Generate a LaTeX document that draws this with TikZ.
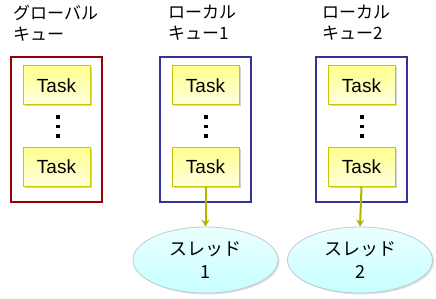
\documentclass[tikz,border=0pt]{standalone}
\usepackage{fontspec}
\setmainfont{Noto Sans CJK JP}
\newfontfamily\taskfont{Liberation Sans}
\usetikzlibrary{shapes.geometric,arrows.meta,shadows}
\definecolor{qred}{HTML}{990000}
\definecolor{qblue}{HTML}{333399}
\definecolor{tborder}{HTML}{C8C800}
\definecolor{arrowc}{HTML}{B4B400}
\tikzset{
  queue/.style={draw, line width=2pt, minimum width=91pt, minimum height=145pt, inner sep=0pt},
  task/.style={draw=tborder, line width=1pt, top color=yellow!45, bottom color=yellow!12, minimum width=67pt, minimum height=39pt, inner sep=0pt, font=\taskfont\fontsize{19}{19}\selectfont, drop shadow={shadow xshift=1.5pt, shadow yshift=-1.5pt, opacity=0.35}},
  thread/.style={ellipse, draw=cyan!20!gray!50, line width=0.8pt, top color=cyan!8, bottom color=cyan!22, minimum width=145pt, minimum height=66pt, inner sep=0pt, align=center, font=\fontsize{18}{23}\selectfont, drop shadow={shadow xshift=1.5pt, shadow yshift=-1.5pt, opacity=0.25}},
  title/.style={anchor=north west, align=left, inner sep=0pt, font=\fontsize{17}{21}\selectfont},
  flow/.style={draw=arrowc, line width=2pt, -{Stealth[length=7pt,width=8pt]}}
}
\begin{document}
\begin{tikzpicture}[x=1pt,y=-1pt]
\useasboundingbox (0,0) rectangle (436,299);
% titles
\node[title] (t1) at (13,5) {グローバル\\キュー};
\node[title] (t2) at (168,5) {ローカル\\キュー1};
\node[title] (t3) at (322,5) {ローカル\\キュー2};
% queues
\node[queue, draw=qred] (q1) at (56.5,129.5) {};
\node[queue, draw=qblue] (q2) at (205,129.5) {};
\node[queue, draw=qblue] (q3) at (361,129.5) {};
% tasks
\node[task] (a1) at (56.5,85.5) {Task};
\node[task] (a2) at (56.5,167) {Task};
\node[task] (b1) at (205.5,85.5) {Task};
\node[task] (b2) at (205.5,167) {Task};
\node[task] (c1) at (361.5,85.5) {Task};
\node[task] (c2) at (361.5,167) {Task};
% dots
\foreach \x in {58, 206, 362}{
  \foreach \y in {117,126.5,136}{
    \fill (\x-1.8,\y-1.8) rectangle (\x+1.8,\y+1.8);
  }
}
% threads
\node[thread] (s1) at (205.5,260) {スレッド\\1};
\node[thread] (s2) at (360,260) {スレッド\\2};
% arrows
\draw[flow] (b2.south) -- (s1.north);
\draw[flow] (c2.south) -- (s2.north);
\end{tikzpicture}
\end{document}
